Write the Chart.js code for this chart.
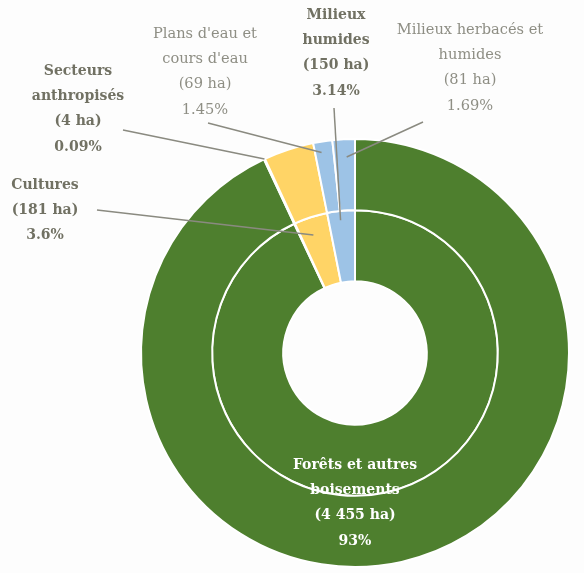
<!DOCTYPE html>
<html>
<head>
<meta charset="utf-8">
<script src="https://cdn.jsdelivr.net/npm/chart.js@4"></script>
<style>
html,body{margin:0;padding:0;background:#fdfdfd;}
#wrap{width:584px;height:573px;position:relative;}
</style>
</head>
<body>
<div id="wrap"><canvas id="c" width="584" height="573"></canvas></div>
<script>
// Categories (clockwise from top)
const categories = ["Forêts et autres boisements", "Secteurs anthropisés", "Cultures", "Plans d'eau et cours d'eau", "Milieux humides", "Milieux herbacés et humides"];
// Outer ring: detailed classes (ha)
const outerValues = [4455, 4, 181, 69, 0, 81];
// Inner ring: grouped classes (ha)
const innerValues = [4455, 4, 181, 0, 150, 0];
const percentLabels = ["93%", "0.09%", "3.6%", "1.45%", "3.14%", "1.69%"];
const areaLabels = ["(4 455 ha)", "(4 ha)", "(181 ha)", "(69 ha)", "(150 ha)", "(81 ha)"];
const colors = ["#4E7F2E", "#FFD466", "#FFD466", "#9DC3E6", "#9DC3E6", "#9DC3E6"];

// Label layout: name lines, dataset used for anchor, offset of text block from the centre, style
const labelSpecs = [
  {i:0, ds:0, lines:["Forêts et autres","boisements"], dx:0, dy:112, bold:true, color:"#ffffff", leader:false},
  {i:1, ds:0, lines:["Secteurs","anthropisés"], dx:-277, dy:-282, bold:true, color:"#717163", leader:true, rf:1.0, af:0.5, lx:-232, ly:-223},
  {i:2, ds:1, lines:["Cultures"], dx:-310, dy:-168, bold:true, color:"#717163", leader:true, rf:0.75, af:0.4, lx:-258, ly:-143},
  {i:3, ds:0, lines:["Plans d'eau et","cours d'eau"], dx:-150, dy:-319, bold:false, color:"#8e8e84", leader:true, rf:0.85, af:0.35, lx:-147, ly:-230},
  {i:4, ds:1, lines:["Milieux","humides"], dx:-19, dy:-338, bold:true, color:"#717163", leader:true, rf:0.87, af:0.45, lx:-21, ly:-245},
  {i:5, ds:0, lines:["Milieux herbacés et","humides"], dx:115, dy:-323, bold:false, color:"#8e8e84", leader:true, rf:0.75, af:0.6, lx:68, ly:-231}
];

const labelPlugin = {
  id: 'labels',
  afterDatasetsDraw(chart) {
    const ctx = chart.ctx;
    const m0 = chart.getDatasetMeta(0);
    const cx = m0.data[0].x, cy = m0.data[0].y;
    ctx.save();
    labelSpecs.forEach(s => {
      const arc = chart.getDatasetMeta(s.ds).data[s.i];
      if (s.leader) {
        const a = arc.startAngle + (arc.endAngle - arc.startAngle) * s.af;
        const r = arc.innerRadius + (arc.outerRadius - arc.innerRadius) * s.rf;
        ctx.beginPath();
        ctx.strokeStyle = "#8a8a80";
        ctx.lineWidth = 1.5;
        ctx.moveTo(cx + s.lx, cy + s.ly);
        ctx.lineTo(cx + Math.cos(a) * r, cy + Math.sin(a) * r);
        ctx.stroke();
      }
      const lines = s.lines.concat([areaLabels[s.i], percentLabels[s.i]]);
      ctx.fillStyle = s.color;
      ctx.textAlign = "center";
      ctx.textBaseline = "middle";
      ctx.font = s.bold ? "bold 14px 'DejaVu Serif'" : "14.6px 'DejaVu Serif'";
      lines.forEach((t, k) => {
        ctx.fillText(t, cx + s.dx, cy + s.dy + k * 25.3);
      });
    });
    ctx.restore();
  }
};

new Chart(document.getElementById('c'), {
  type: 'doughnut',
  data: {
    labels: categories,
    datasets: [
      {data: outerValues, backgroundColor: colors, borderColor: "#ffffff", borderWidth: 2},
      {data: innerValues, backgroundColor: colors, borderColor: "#ffffff", borderWidth: 2}
    ]
  },
  options: {
    responsive: false,
    animation: false,
    cutout: "33.5%",
    layout: {padding: {left: 140, right: 14, top: 138, bottom: 5}},
    plugins: {legend: {display: false}, tooltip: {enabled: false}}
  },
  plugins: [labelPlugin]
});
</script>
</body>
</html>
